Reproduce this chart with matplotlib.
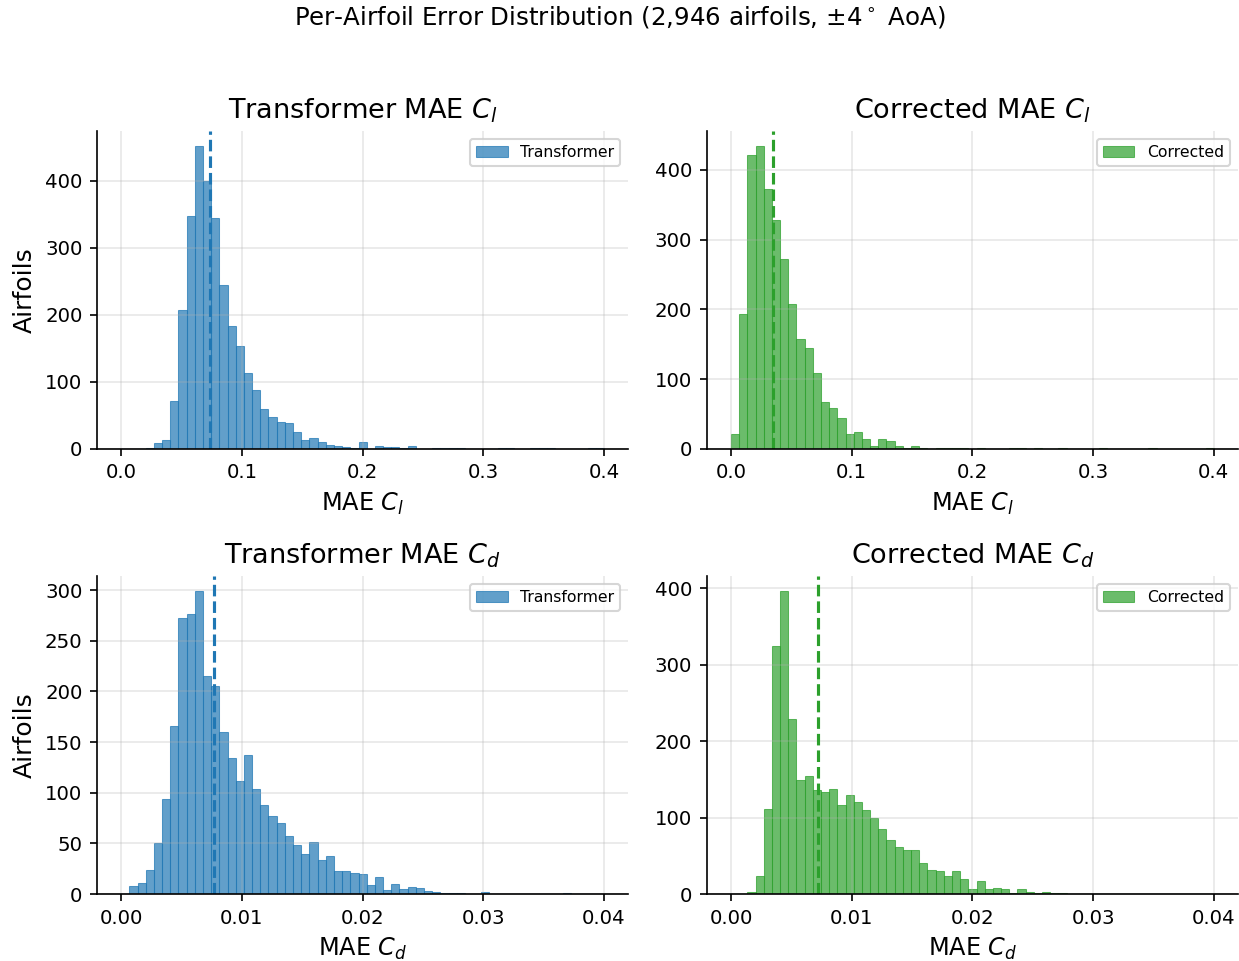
import matplotlib
matplotlib.use("Agg")
import matplotlib.pyplot as plt
from matplotlib.ticker import MultipleLocator
import numpy as np

N_AIRFOILS = 2946

# histogram bin edges (59 bins each)
cl_edges = np.linspace(0, 0.4, 60)
cd_edges = np.linspace(0, 0.04, 60)

# counts per bin
tf_cl = [0, 0, 0, 1, 9, 13, 72, 208, 347, 452, 400, 345, 244, 183, 154, 114, 88, 60, 48, 40,
         38, 25, 13, 16, 10, 6, 4, 3, 1, 10, 0, 4, 3, 3, 1, 4, 0, 0, 1, 1,
         1, 1, 0, 0, 0, 0, 1, 1, 0, 0, 1, 1, 1, 0, 0, 0, 0, 1, 1]
cor_cl = [22, 193, 421, 434, 372, 328, 272, 208, 157, 144, 109, 67, 59, 44, 21, 24, 14, 4, 14, 11,
          4, 2, 4, 1, 0, 1, 1, 1, 1, 0, 1, 0, 0, 0, 1, 1, 0, 1, 0, 0,
          1, 0, 0, 0, 0, 1, 0, 0, 0, 0, 0, 1, 0, 0, 0, 0, 0, 0, 1]
tf_cd = [0, 8, 11, 24, 50, 94, 166, 273, 277, 299, 215, 205, 160, 134, 112, 137, 104, 88, 77, 70,
         57, 48, 40, 51, 34, 38, 23, 23, 21, 20, 9, 17, 4, 10, 5, 7, 6, 3, 2, 1,
         1, 1, 0, 0, 2, 0, 0, 0, 0, 0, 0, 0, 0, 0, 1, 0, 0, 0, 0]
cor_cd = [0, 0, 2, 23, 111, 324, 396, 229, 149, 154, 136, 134, 137, 117, 129, 120, 110, 99, 85, 70,
          61, 58, 58, 41, 32, 30, 23, 30, 19, 6, 17, 7, 8, 6, 1, 6, 2, 1, 2, 1,
          1, 0, 0, 0, 0, 0, 0, 0, 0, 0, 0, 0, 0, 0, 0, 0, 0, 0, 0]

# mean error (dashed lines)
tf_cl_mean = 0.0738
cor_cl_mean = 0.0349
tf_cd_mean = 0.00765
cor_cd_mean = 0.0072

panels = [
    (tf_cl, cl_edges, tf_cl_mean, "C0", "Transformer", r"Transformer MAE $C_l$", r"MAE $C_l$", 0.1),
    (cor_cl, cl_edges, cor_cl_mean, "C2", "Corrected", r"Corrected MAE $C_l$", r"MAE $C_l$", 0.1),
    (tf_cd, cd_edges, tf_cd_mean, "C0", "Transformer", r"Transformer MAE $C_d$", r"MAE $C_d$", 0.01),
    (cor_cd, cd_edges, cor_cd_mean, "C2", "Corrected", r"Corrected MAE $C_d$", r"MAE $C_d$", 0.01),
]

fig, axes = plt.subplots(2, 2, figsize=(1239 / 150, 961 / 150), dpi=150)
fig.subplots_adjust(left=0.0783, right=0.9992, top=0.8637, bottom=0.0697,
                    wspace=0.148, hspace=0.40)

for i, (counts, edges, mean, color, name, title, xlabel, step) in enumerate(panels):
    ax = axes.flat[i]
    centers = (edges[:-1] + edges[1:]) / 2
    ax.hist(centers, bins=edges, weights=counts, color=color, alpha=0.7,
            edgecolor=color, linewidth=0.5, label=name)
    ax.axvline(mean, color=color, linestyle="--", linewidth=1.5)
    ax.xaxis.set_major_locator(MultipleLocator(step))
    ax.set_title(title, fontsize=13)
    ax.set_xlabel(xlabel, fontsize=11.5)
    if i % 2 == 0:
        ax.set_ylabel("Airfoils", fontsize=12)
    ax.tick_params(labelsize=9.5)
    ax.legend(loc="upper right", fontsize=7.5)
    ax.grid(True, alpha=0.3)
    ax.spines["top"].set_visible(False)
    ax.spines["right"].set_visible(False)

fig.suptitle("Per-Airfoil Error Distribution (%s airfoils, ±4$^\\circ$ AoA)" % format(N_AIRFOILS, ","),
             fontsize=11.75, y=0.996)

fig.savefig("out.png", dpi=150)
